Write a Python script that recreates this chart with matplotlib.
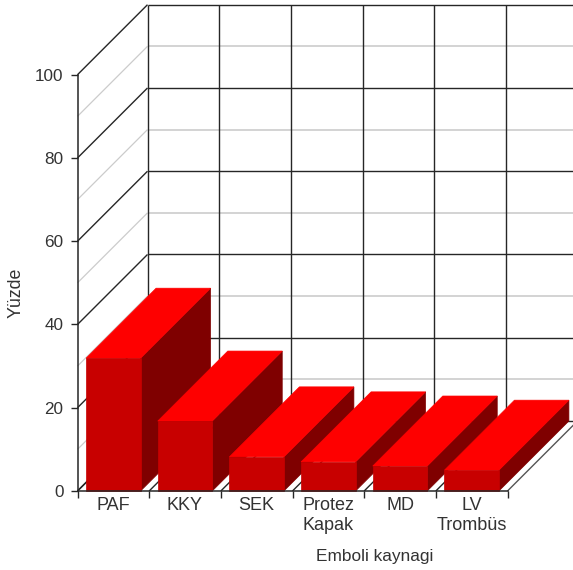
import matplotlib
matplotlib.use("Agg")
import matplotlib.pyplot as plt
from matplotlib.patches import Polygon

categories = ["PAF", "KKY", "SEK", "Protez\nKapak", "MD", "LV\nTrombüs"]
values = [31.9, 16.8, 8.2, 7.0, 6.0, 5.0]
major_ticks = [0, 20, 40, 60, 80, 100]
minor_ticks = [10, 30, 50, 70, 90]
y_label = "Yüzde"
x_label = "Emboli kaynagi"

W, H = 573, 570
L, R, B, T = 77.5, 507.5, 491.0, 74.7
XMAX, YMAX = len(categories), 100
DX = 70.0 / ((R - L) / XMAX)     # depth shift, in category units
DY = 70.0 / ((B - T) / YMAX)     # depth shift, in value units
BAR_PAD = 0.12
EXTRA = 1                        # back wall runs one more category off the canvas

DARK = "#262626"
GREY = "#cccccc"
TEXT = "#333333"

plt.rcParams["font.family"] = ["Liberation Sans", "DejaVu Sans"]
fig = plt.figure(figsize=(W / 100, H / 100), dpi=100, facecolor="white")
ax = fig.add_axes([L / W, (H - B) / H, (R - L) / W, (B - T) / H])
ax.set_xlim(0, XMAX)
ax.set_ylim(0, YMAX)
ax.patch.set_visible(False)


def back(x, y, d=1.0):
    return x + d * DX, y + d * DY


def line(p, q, color=DARK, lw=1.0, z=1):
    ax.plot([p[0], q[0]], [p[1], q[1]], color=color, lw=lw, zorder=z,
            clip_on=False, solid_capstyle="butt")


# grid on left wall and back wall
far = XMAX + EXTRA
for v in minor_ticks:
    line((0, v), back(0, v), GREY, 0.9)
    line(back(0, v), back(far, v), GREY, 1.2)
for v in major_ticks:
    line((0, v), back(0, v))
    line(back(0, v), back(far, v))
for i in range(XMAX + 1):
    line(back(i, 0), back(i, YMAX))
# floor
for i in range(XMAX + 1):
    line((i, 0), back(i, 0), DARK if i < XMAX else "#555555")

# bars, drawn left to right so nearer faces cover the previous side face
for i, v in enumerate(values):
    x0, x1 = i + BAR_PAD, i + 1 - BAR_PAD
    side = [(x1, 0), back(x1, 0), back(x1, v), (x1, v)]
    top = [(x0, v), (x1, v), back(x1, v), back(x0, v)]
    front = [(x0, 0), (x1, 0), (x1, v), (x0, v)]
    ax.add_patch(Polygon(side, fc="#7f0000", ec="#7f0000", lw=0.5, zorder=3 + i, clip_on=False))
    ax.add_patch(Polygon(top, fc="#fe0000", ec="#fe0000", lw=0.5, zorder=3 + i, clip_on=False))
    ax.add_patch(Polygon(front, fc="#c80000", ec="#c80000", lw=0.5, zorder=3 + i, clip_on=False))

for s in ("top", "right"):
    ax.spines[s].set_visible(False)
for s in ("left", "bottom"):
    ax.spines[s].set_color(DARK)
    ax.spines[s].set_linewidth(1.1)
    ax.spines[s].set_zorder(20)

ax.set_yticks(major_ticks)
ax.tick_params(axis="y", length=5, width=1.0, color=DARK, pad=5,
               labelsize=12.3, labelcolor=TEXT)
ax.set_xticks(range(XMAX + 1))
ax.set_xticklabels([])
ax.tick_params(axis="x", which="major", length=5, width=1.0, color=DARK)
ax.set_xticks([i + 0.5 for i in range(XMAX)], minor=True)
ax.set_xticklabels(categories, minor=True, fontsize=13, color=TEXT, linespacing=1.2)
ax.tick_params(axis="x", which="minor", length=0, pad=4.5)

fig.text(16 / W, 1 - 293 / H, y_label, rotation=90, ha="center", va="center",
         fontsize=12.8, color=TEXT)
fig.text(375 / W, 1 - 557 / H, x_label, ha="center", va="center",
         fontsize=12.4, color=TEXT)

fig.savefig("out.png", dpi=100, facecolor="white")
